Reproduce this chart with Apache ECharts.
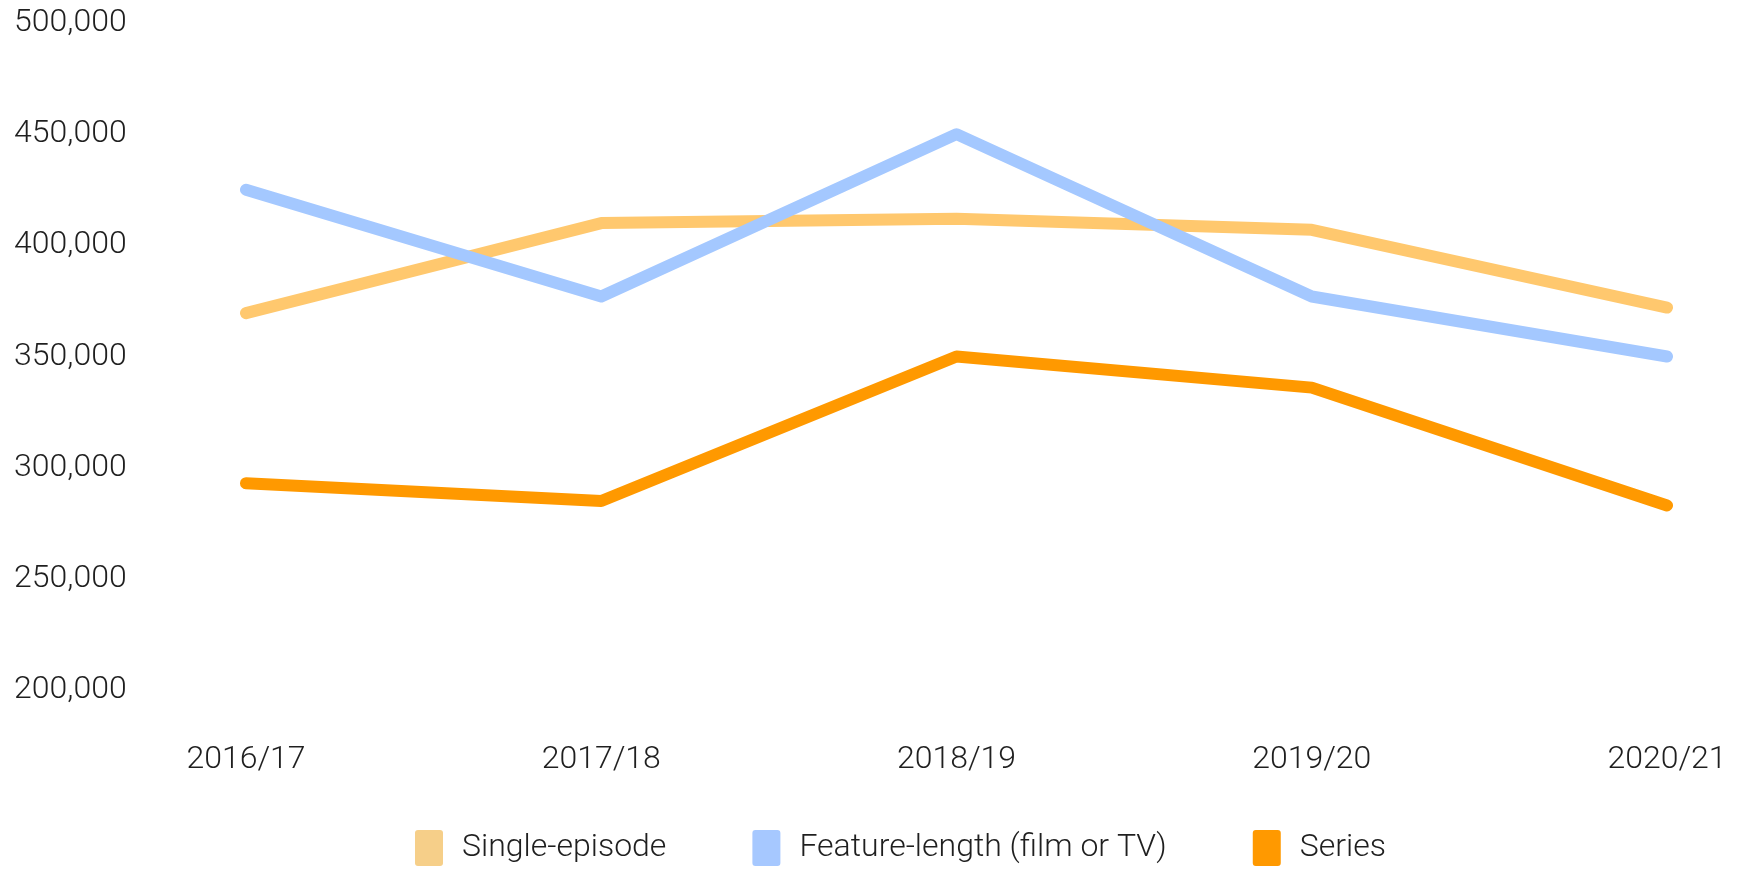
<!DOCTYPE html>
<html>
<head>
<meta charset="utf-8">
<script src="https://cdn.jsdelivr.net/npm/echarts@6/dist/echarts.min.js"></script>
<style>
  html, body { margin: 0; padding: 0; background: #fff; }
  #chart { width: 1737px; height: 870px; }
</style>
</head>
<body>
<div id="chart"></div>
<script>
const years = ["2016/17", "2017/18", "2018/19", "2019/20", "2020/21"];
const singleEpisode = [369500, 410000, 412000, 407000, 372000];
const featureLength = [425000, 377000, 450000, 377000, 350000];
const seriesData = [293000, 285000, 350000, 336000, 283000];

const textColor = "#1f1f1f";
const font = "Roboto";
// small rounded square used for the legend keys
const keyIcon = "path://M3,0 H25 Q28,0 28,3 V33 Q28,36 25,36 H3 Q0,36 0,33 V3 Q0,0 3,0 Z";

let myChart = echarts.init(document.getElementById("chart"));

function lineSeries(name, data, color) {
  return {
    name: name,
    type: "line",
    data: data,
    symbol: "none",
    lineStyle: { width: 12, color: color, cap: "round", join: "round" },
    itemStyle: { color: color },
  };
}

let option = {
  animation: false,
  textStyle: { fontFamily: font, fontWeight: 300, color: textColor },
  grid: { left: 246, right: 70, top: 23, bottom: 180 },
  xAxis: {
    type: "category",
    data: years,
    boundaryGap: false,
    axisLine: { show: false },
    axisTick: { show: false },
    axisLabel: {
      fontSize: 32,
      fontFamily: font,
      fontWeight: 300,
      color: textColor,
      margin: 70,
      verticalAlign: "middle",
    },
  },
  yAxis: {
    type: "value",
    min: 200000,
    max: 500000,
    interval: 50000,
    splitLine: { show: false },
    axisLine: { show: false },
    axisTick: { show: false },
    axisLabel: {
      fontSize: 32,
      fontFamily: font,
      fontWeight: 300,
      color: textColor,
      align: "left",
      verticalAlign: "middle",
      padding: [5, 0, 0, 0],
      margin: 232,
      formatter: (v) => v.toLocaleString("en-US"),
    },
  },
  legend: {
    left: 410,
    top: 825,
    itemWidth: 28,
    itemHeight: 36,
    itemGap: 86,
    icon: keyIcon,
    textStyle: {
      fontSize: 32,
      fontFamily: font,
      fontWeight: 300,
      color: textColor,
      padding: [0, 0, 0, 14],
    },
    data: [
      { name: "Single-episode", itemStyle: { color: "#F6CF89" } },
      { name: "Feature-length (film or TV)", itemStyle: { color: "#A6C8FF" } },
      { name: "Series", itemStyle: { color: "#FF9900" } },
    ],
  },
  series: [
    lineSeries("Single-episode", singleEpisode, "#FFC86E"),
    lineSeries("Feature-length (film or TV)", featureLength, "#A4C8FF"),
    lineSeries("Series", seriesData, "#FF9900"),
  ],
};

myChart.setOption(option);
</script>
</body>
</html>
